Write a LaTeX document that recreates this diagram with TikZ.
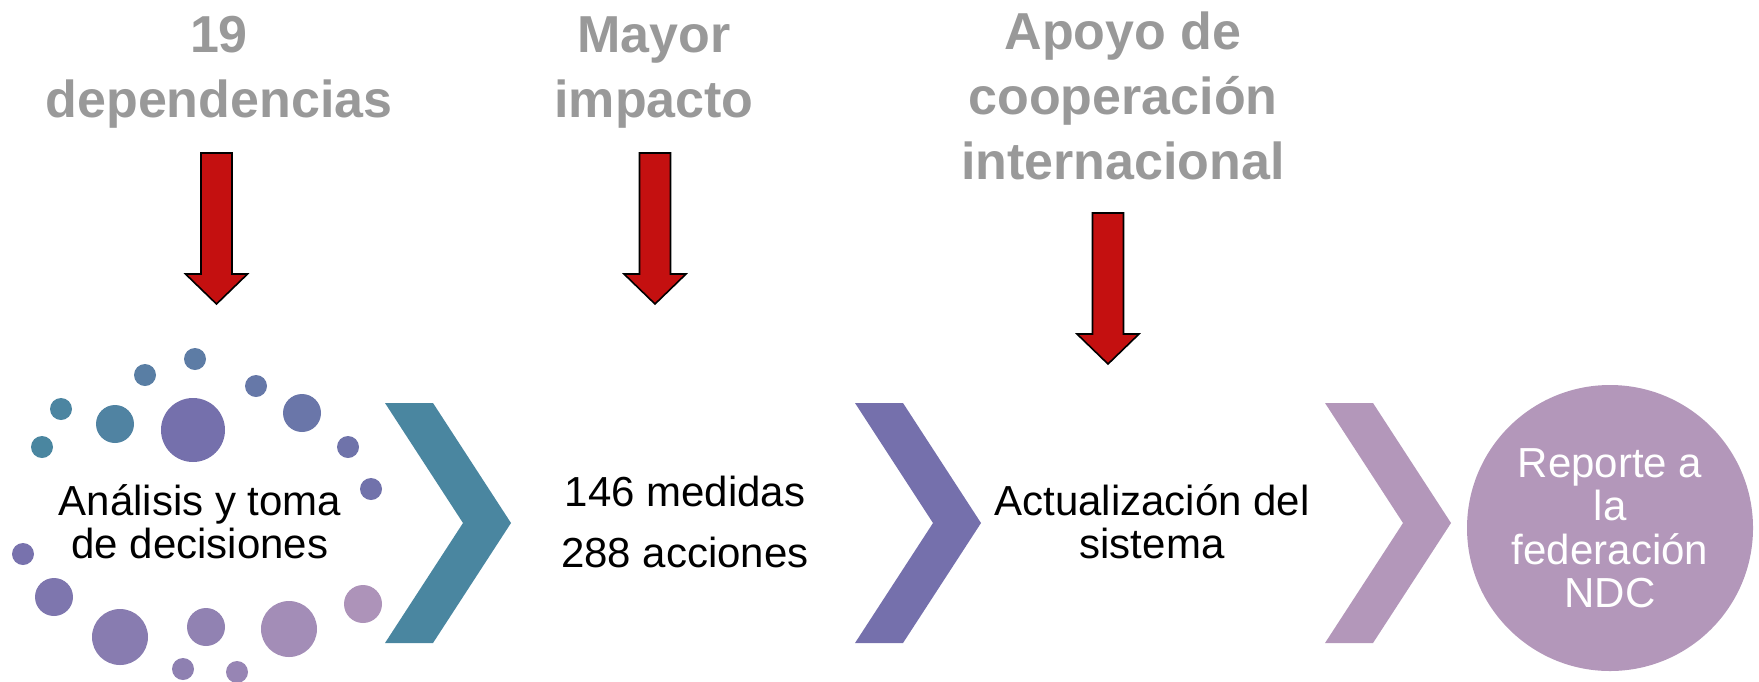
\documentclass[tikz,border=0pt]{standalone}
\usepackage{fontspec}
\setmainfont{Liberation Sans}
\usetikzlibrary{positioning}
\definecolor{titlegray}{RGB}{153,153,153}
\definecolor{arrowred}{RGB}{196,16,16}
\definecolor{tealc}{RGB}{74,134,160}
\definecolor{violetc}{RGB}{117,112,172}
\definecolor{mauvec}{RGB}{179,151,186}
\tikzstyle{title} = [font=\fontsize{26}{32.5}\selectfont\bfseries, text=titlegray, align=center, anchor=base, inner sep=0]
\tikzstyle{body} = [font=\fontsize{21}{21.5}\selectfont, align=center, anchor=base, inner sep=0]
\tikzstyle{redarrow} = [fill=arrowred, draw=black, line width=0.8pt, line join=miter]

\begin{document}
\begin{tikzpicture}[x=0.5pt, y=-0.5pt]
\useasboundingbox (0,0) rectangle (1759,681);

% titulos (base = ultima linea)
\node (dependencias) [title] at (219,117) {19\\dependencias};
\node (impacto) [title] at (654,117) {Mayor\\impacto};
\node (apoyo) [title] at (1123,179) {Apoyo de\\cooperación\\internacional};

% flechas rojas
\foreach \x/\t in {216.5/153, 655/153, 1108/213}
  \draw[redarrow] (\x-15.5,\t) -- (\x+15.5,\t) -- (\x+15.5,\t+121) -- (\x+31,\t+121)
    -- (\x,\t+151) -- (\x-31,\t+121) -- (\x-15.5,\t+121) -- cycle;

% puntos
\foreach \x/\y/\r/\c in {42/447/11/violetc!0!tealc, 61/409/11/violetc!5!tealc,
    115/424/19/violetc!15!tealc, 145/375/11/violetc!35!tealc, 195/359/11/violetc!45!tealc,
    256/386/11/violetc!65!tealc, 302/413/19/violetc!75!tealc, 348/447/11/violetc!85!tealc,
    371/489/11/violetc!92!tealc, 193/430/32/violetc, 23/554/11/mauvec!5!violetc,
    54/597/19/mauvec!15!violetc, 120/637/28/mauvec!30!violetc, 183/669/11/mauvec!40!violetc,
    206/627/19/mauvec!45!violetc, 237/672/11/mauvec!55!violetc, 289/629/28/mauvec!75!violetc,
    363/604/19/mauvec!90!violetc}
  \fill[\c] (\x,\y) circle[radius=\r];

% chevrones
\foreach \x/\c in {385/tealc, 855/violetc, 1325/mauvec}
  \fill[\c] (\x,403) -- ++(48,0) -- ++(78,120) -- ++(-78,120) -- ++(-48,0) -- ++(78,-120) -- cycle;

\node (analisis) [body] at (200,558) {Análisis y toma\\de decisiones};
\node (medidas) [body, font=\fontsize{21}{30.5}\selectfont] at (685,567) {146 medidas\\288 acciones};
\node (actualizacion) [body] at (1152,558) {Actualización del\\sistema};
\node (reporte) [circle, fill=mauvec, minimum size=143pt, inner sep=0, text=white, align=center,
  font=\fontsize{21}{21.75}\selectfont] at (1610,528) {Reporte a\\la\\federación\\NDC};
\end{tikzpicture}
\end{document}
